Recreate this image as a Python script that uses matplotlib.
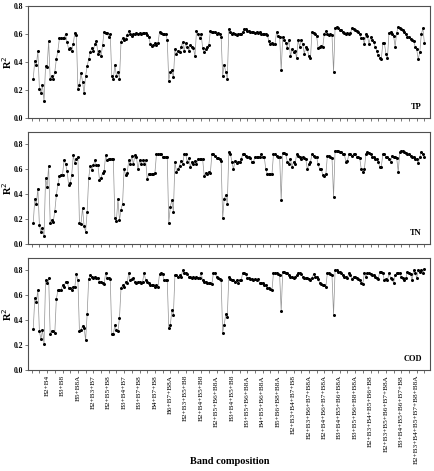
import numpy as np
import matplotlib.pyplot as plt

# R2 of each band combination, x = 1..255 (singles, pairs, triples, ... all bands)
tp = [0.28, 0.41, 0.38, 0.475, 0.21, 0.175, 0.235, 0.12, 0.37, 0.365, 0.55, 0.28, 0.30, 0.28, 0.33, 0.42, 0.48, 0.57,
      0.57, 0.57, 0.57, 0.60, 0.54, 0.49, 0.50, 0.48, 0.53, 0.61, 0.59,
      0.21, 0.235, 0.32, 0.26, 0.175, 0.30, 0.37, 0.42, 0.47, 0.50, 0.48, 0.53, 0.55, 0.46, 0.48, 0.44, 0.52, 0.615, 0.61,
      0.61, 0.575, 0.60, 0.30, 0.28, 0.38, 0.30, 0.33, 0.28,
      0.545, 0.57, 0.56, 0.565, 0.59, 0.62, 0.60, 0.585, 0.60, 0.60, 0.605, 0.60, 0.605, 0.60, 0.605, 0.61, 0.605, 0.59,
      0.58, 0.53, 0.515, 0.52, 0.535, 0.52, 0.535, 0.615, 0.61, 0.60, 0.60, 0.60,
      0.56, 0.265, 0.33, 0.34, 0.29, 0.49, 0.46, 0.48, 0.47, 0.51, 0.54, 0.48, 0.535, 0.51, 0.48, 0.52, 0.51, 0.50, 0.44,
      0.62, 0.60, 0.57, 0.60, 0.50, 0.47, 0.49, 0.51, 0.52, 0.62, 0.615, 0.615, 0.615, 0.60, 0.61,
      0.60, 0.58, 0.30, 0.38, 0.33, 0.28,
      0.635, 0.615, 0.60, 0.61, 0.60, 0.595, 0.60, 0.60, 0.60, 0.615, 0.635, 0.635, 0.62, 0.62, 0.615, 0.615, 0.615, 0.61,
      0.615, 0.61, 0.615, 0.60, 0.60, 0.60, 0.60, 0.59, 0.55, 0.525, 0.535, 0.525, 0.53, 0.615, 0.585, 0.58,
      0.34,
      0.58, 0.56, 0.535, 0.50, 0.56, 0.44, 0.49, 0.47, 0.48, 0.43, 0.555, 0.51, 0.555, 0.525, 0.46, 0.51, 0.49, 0.44,
      0.425, 0.615, 0.61, 0.60, 0.585, 0.50, 0.51, 0.515, 0.51, 0.60, 0.62, 0.60, 0.59,
      0.60, 0.59, 0.33,
      0.645, 0.65, 0.64, 0.625, 0.625, 0.615, 0.61, 0.60, 0.605, 0.60, 0.61, 0.64, 0.635, 0.625, 0.62, 0.615, 0.60, 0.57,
      0.57,
      0.53, 0.60,
      0.585, 0.53, 0.575, 0.555, 0.545, 0.51, 0.48, 0.45, 0.425, 0.42, 0.535, 0.535, 0.46, 0.425, 0.61, 0.615, 0.60,
      0.585, 0.51, 0.61, 0.65, 0.64, 0.635, 0.63, 0.615, 0.60, 0.58, 0.575, 0.565,
      0.56, 0.55, 0.51, 0.49, 0.42, 0.47, 0.60, 0.64, 0.535]

tn = [0.17, 0.36, 0.32, 0.445, 0.15, 0.094, 0.125, 0.064, 0.53, 0.46, 0.627, 0.17, 0.19, 0.18, 0.264, 0.392, 0.48,
      0.544, 0.557, 0.557, 0.672, 0.645, 0.584, 0.472, 0.49, 0.557, 0.712, 0.653, 0.685, 0.699,
      0.165, 0.157, 0.29, 0.144, 0.099, 0.259, 0.53, 0.627, 0.597, 0.632, 0.672, 0.632, 0.632, 0.517, 0.533, 0.57,
      0.584, 0.712, 0.677, 0.685, 0.685, 0.685,
      0.68, 0.205, 0.186, 0.36, 0.19, 0.277, 0.325,
      0.605, 0.552, 0.57, 0.672, 0.64, 0.707, 0.64, 0.712, 0.699, 0.60, 0.672, 0.645, 0.672, 0.645, 0.672,
      0.52, 0.565, 0.56, 0.56, 0.565, 0.57,
      0.72, 0.72, 0.725, 0.725, 0.70, 0.70, 0.70,
      0.70, 0.17, 0.30, 0.35, 0.26,
      0.66, 0.58, 0.60, 0.63, 0.67, 0.64, 0.72, 0.72, 0.66, 0.69, 0.62, 0.66, 0.64, 0.67, 0.64, 0.68, 0.68, 0.68, 0.68,
      0.55, 0.57, 0.56, 0.58, 0.57, 0.72, 0.72, 0.71, 0.69, 0.69,
      0.68, 0.67, 0.205, 0.365, 0.39, 0.325, 0.74, 0.725, 0.66, 0.60, 0.67, 0.65, 0.66, 0.66, 0.68, 0.72, 0.72, 0.71,
      0.70, 0.70, 0.69, 0.66, 0.66, 0.70, 0.70, 0.70, 0.70, 0.72, 0.70, 0.70, 0.60, 0.565, 0.56, 0.565, 0.56, 0.72,
      0.72, 0.71, 0.70, 0.70, 0.35, 0.73, 0.73, 0.72, 0.66, 0.64, 0.68, 0.62, 0.66, 0.64, 0.72, 0.71, 0.70, 0.68, 0.70,
      0.69, 0.68, 0.60, 0.64, 0.66, 0.72, 0.71, 0.70, 0.70, 0.64, 0.60, 0.60, 0.555, 0.55, 0.56, 0.71, 0.71, 0.70,
      0.69, 0.38, 0.75, 0.75, 0.75, 0.74, 0.74, 0.72, 0.72, 0.66, 0.67, 0.72, 0.72, 0.71, 0.72, 0.72, 0.70, 0.70, 0.69,
      0.60, 0.58, 0.60, 0.72, 0.74, 0.73, 0.72, 0.70, 0.70, 0.68, 0.68, 0.66, 0.62, 0.62, 0.72, 0.72, 0.70, 0.70,
      0.68, 0.66, 0.71, 0.70, 0.70, 0.69, 0.58, 0.74, 0.75, 0.745, 0.74, 0.73, 0.72, 0.72, 0.71, 0.70, 0.70, 0.68,
      0.68, 0.65, 0.70, 0.74, 0.72, 0.70]

cod = [0.33, 0.575, 0.55, 0.64, 0.31, 0.25, 0.32, 0.21, 0.72, 0.70, 0.74, 0.29, 0.31, 0.31, 0.30, 0.57, 0.64, 0.64,
       0.64, 0.68, 0.67, 0.71, 0.71, 0.66, 0.66, 0.64, 0.67, 0.67, 0.77,
       0.72, 0.31, 0.32, 0.355, 0.34, 0.24, 0.45,
       0.73, 0.76, 0.75, 0.74, 0.75, 0.74, 0.74, 0.71, 0.71, 0.70, 0.69, 0.78, 0.74, 0.74, 0.73,
       0.29, 0.29, 0.36, 0.32, 0.31, 0.42,
       0.66, 0.68, 0.67, 0.71, 0.70, 0.78, 0.72, 0.73, 0.74, 0.71, 0.70, 0.71, 0.71, 0.70, 0.71, 0.78, 0.72, 0.71,
       0.70, 0.68, 0.68, 0.68, 0.67, 0.68, 0.67, 0.77, 0.78, 0.77, 0.72, 0.72,
       0.72, 0.34, 0.36, 0.48, 0.445,
       0.76, 0.76, 0.75, 0.76, 0.75, 0.80, 0.78, 0.78, 0.77, 0.75, 0.75, 0.74, 0.75, 0.74, 0.75, 0.74, 0.74, 0.78,
       0.72, 0.71, 0.71, 0.70, 0.70, 0.70, 0.69, 0.78, 0.78, 0.75, 0.74,
       0.73, 0.72, 0.30, 0.365, 0.45, 0.43,
       0.75, 0.73, 0.72, 0.72, 0.71, 0.72, 0.70, 0.72, 0.72, 0.78, 0.78, 0.77, 0.74, 0.74, 0.73, 0.73, 0.72, 0.73,
       0.72, 0.73, 0.70, 0.70, 0.70, 0.68, 0.68, 0.66, 0.66, 0.65, 0.64, 0.78, 0.78, 0.78, 0.77, 0.76,
       0.475,
       0.79, 0.79, 0.78, 0.78, 0.76, 0.75, 0.75, 0.74, 0.75, 0.76, 0.78, 0.78, 0.77, 0.75, 0.74, 0.74, 0.74, 0.73,
       0.72, 0.74, 0.77, 0.75, 0.75, 0.73, 0.70, 0.69, 0.68, 0.68, 0.67, 0.78, 0.78, 0.77, 0.76,
       0.445,
       0.80, 0.80, 0.79, 0.79, 0.78, 0.76, 0.75, 0.75, 0.74, 0.78, 0.76, 0.73, 0.75, 0.75, 0.74, 0.73, 0.72, 0.70,
       0.69, 0.78, 0.75, 0.78, 0.78, 0.77, 0.76, 0.76, 0.75, 0.74, 0.73, 0.79, 0.79, 0.78, 0.72, 0.73, 0.72, 0.78,
       0.74, 0.73, 0.70, 0.76, 0.78, 0.78, 0.78, 0.75, 0.74, 0.72, 0.74, 0.79, 0.78, 0.77, 0.72, 0.80, 0.78, 0.74,
       0.80, 0.79, 0.80, 0.78, 0.81]

band_labels = ['B2+B4', 'B3+B8', 'B5+B8A', 'B2+B3+B7', 'B2+B5+B8', 'B3+B4+B7', 'B3+B7+B8', 'B4+B7+B8',
               'B6+B7+B8A', 'B2+B3+B5+B8', 'B2+B4+B5+B8', 'B2+B5+B6+B8A', 'B3+B4+B5+B8', 'B3+B5+B6+B8A',
               'B4+B5+B6+B8A', 'B5+B6+B8+B8A', 'B2+B3+B4+B7+B8', 'B2+B3+B6+B7+B8A', 'B2+B4+B6+B7+B8A',
               'B3+B4+B5+B6+B8A', 'B3+B5+B6+B8+B8A', 'B2+B3+B4+B5+B6+B8', 'B2+B3+B5+B6+B7+B8A',
               'B3+B4+B5+B6+B7+B8', 'B2+B3+B4+B5+B7+B8+B8A']
label_pos = list(range(10, 251, 10))

plt.rcParams['font.family'] = ['Liberation Serif', 'DejaVu Serif']

fig = plt.figure(figsize=(4.35, 4.71), dpi=100)

panels = [('TP', tp, 0.8, 0.7495),
          ('TN', tn, 0.9, 0.4820),
          ('COD', cod, 0.9, 0.2144)]

ticks = np.arange(0, 256, 5)
for k, (name, vals, ytop, bottom) in enumerate(panels):
    ax = fig.add_axes([0.0644, bottom, 0.924, 0.2378])
    x = np.arange(1, len(vals) + 1)
    ax.plot(x, vals, color='#909090', lw=0.5, marker='o', ms=2.2,
            mfc='black', mec='black', mew=0)
    ax.set_xlim(-2.4, 258.6)
    ax.set_ylim(0, ytop)
    ax.set_yticks([0.0, 0.2, 0.4, 0.6, 0.8])
    ax.set_yticklabels(['0.0', '0.2', '0.4', '0.6', '0.8'], fontsize=5.5, fontweight='bold')
    ax.set_xticks(ticks)
    if k == 2:
        labs = [band_labels[label_pos.index(t)] if t in label_pos else '' for t in ticks]
        ax.set_xticklabels(labs, rotation=90, fontsize=5.2)
    else:
        ax.set_xticklabels([])
    ax.tick_params(axis='both', direction='out', length=2, width=0.5, pad=1.5, color='#404040')
    for s in ax.spines.values():
        s.set_color('#505050')
        s.set_linewidth(0.8)
    ax.set_ylabel('R$^2$', fontsize=7.5, fontweight='bold')
    ax.yaxis.set_label_coords(-0.036, 0.5)
    ax.text(0.98, 0.095, name, transform=ax.transAxes, ha='right', va='center',
            fontsize=6, fontweight='bold')

fig.text(0.528, 0.021, 'Band composition', ha='center', va='center', fontsize=7.5, fontweight='bold')

fig.savefig('out.png', dpi=100)
